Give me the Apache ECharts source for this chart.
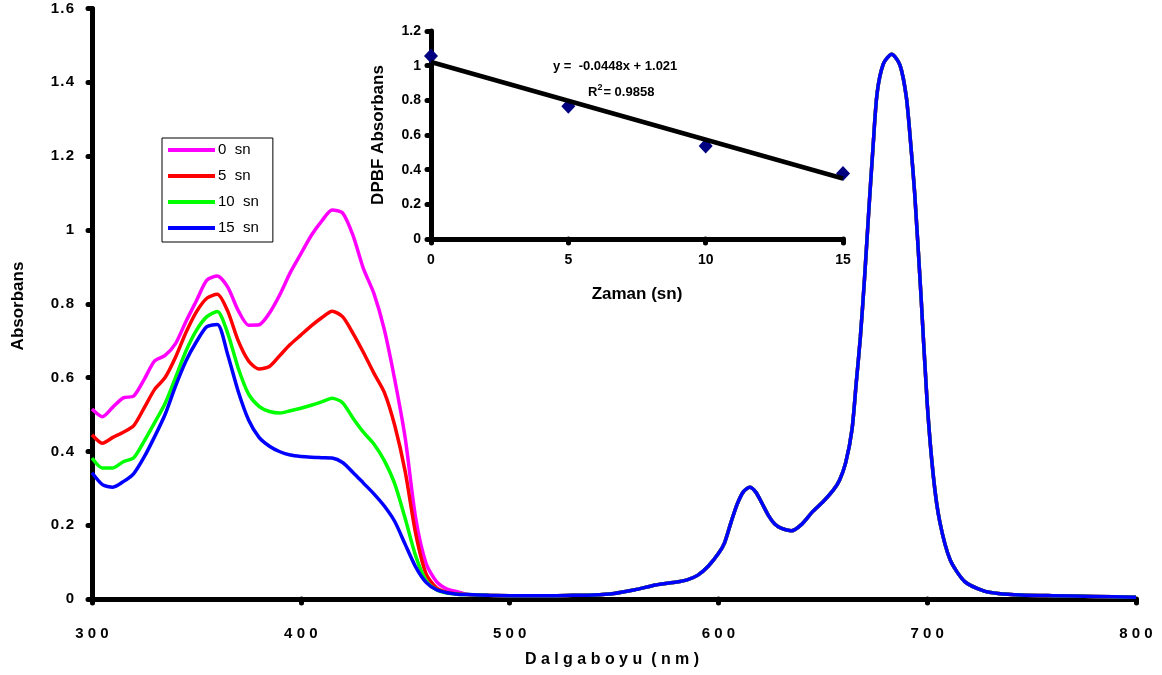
<!DOCTYPE html>
<html>
<head>
<meta charset="utf-8">
<script src="https://cdn.jsdelivr.net/npm/echarts@6/dist/echarts.min.js"></script>
<style>
  html, body { margin: 0; padding: 0; background: #fff; }
  #chart { width: 1162px; height: 675px; }
</style>
</head>
<body>
<div id="chart"></div>
<script>
// UV-Vis absorption spectra of DPBF during irradiation (0, 5, 10, 15 s)
const seriesNames = ['0 sn', '5 sn', '10 sn', '15 sn'];
const seriesColors = ['#FF00FF', '#FF0000', '#00FF00', '#0000FF'];

// Wavelength grid for the DPBF band region (nm)
const wavelengthUV = [300, 305, 310, 315, 320, 325, 330, 335, 340, 345, 350, 355, 360, 365, 370, 375,
  380, 385, 390, 395, 400, 405, 410, 415, 420, 425, 430, 435, 440, 445, 450, 455, 460, 465, 470, 475];

const abs0 = [0.515, 0.494, 0.520, 0.545, 0.550, 0.595, 0.645, 0.660, 0.692, 0.752, 0.808, 0.864, 0.875, 0.845, 0.782, 0.742,
  0.743, 0.775, 0.825, 0.885, 0.935, 0.985, 1.024, 1.054, 1.046, 0.985, 0.895, 0.828, 0.730, 0.594, 0.436, 0.220, 0.096, 0.047, 0.027, 0.020];
const abs5 = [0.445, 0.422, 0.438, 0.452, 0.470, 0.518, 0.568, 0.600, 0.655, 0.722, 0.778, 0.815, 0.826, 0.780, 0.700, 0.645,
  0.623, 0.630, 0.660, 0.690, 0.715, 0.740, 0.762, 0.780, 0.765, 0.720, 0.668, 0.612, 0.560, 0.470, 0.345, 0.178, 0.068, 0.030, 0.018, 0.014];
const abs10 = [0.382, 0.355, 0.355, 0.372, 0.383, 0.428, 0.478, 0.530, 0.600, 0.672, 0.728, 0.765, 0.779, 0.720, 0.626, 0.555,
  0.522, 0.508, 0.504, 0.510, 0.517, 0.525, 0.534, 0.544, 0.532, 0.490, 0.452, 0.420, 0.375, 0.312, 0.218, 0.117, 0.050, 0.025, 0.016, 0.013];
const abs15 = [0.342, 0.310, 0.303, 0.318, 0.340, 0.385, 0.440, 0.500, 0.577, 0.645, 0.697, 0.738, 0.744, 0.662, 0.563, 0.485,
  0.438, 0.414, 0.399, 0.390, 0.386, 0.384, 0.383, 0.382, 0.370, 0.343, 0.314, 0.285, 0.252, 0.210, 0.148, 0.087, 0.045, 0.025, 0.017, 0.013];

// Phthalocyanine Q-band region, identical for all four spectra
const wavelengthQ = [480, 490, 500, 510, 520, 530, 540, 550, 560, 570, 580, 585, 590, 595, 600, 603, 606, 609, 612, 615,
  618, 621, 624, 627, 630, 635, 640, 645, 650, 655, 658, 661, 664, 666, 668, 670, 672, 674, 676, 679, 683, 687, 690, 692,
  694, 697, 700, 703, 706, 711, 718, 727, 734, 745, 760, 780, 800];
const absQ = [0.012, 0.010, 0.009, 0.009, 0.009, 0.010, 0.011, 0.015, 0.025, 0.038, 0.046, 0.052, 0.064, 0.088, 0.123, 0.153, 0.207, 0.257, 0.291, 0.303,
  0.289, 0.258, 0.226, 0.203, 0.192, 0.185, 0.203, 0.236, 0.263, 0.295, 0.322, 0.370, 0.460, 0.585, 0.710, 0.870, 1.050, 1.220, 1.370, 1.450, 1.476, 1.446, 1.360, 1.240,
  1.100, 0.825, 0.530, 0.330, 0.210, 0.106, 0.047, 0.022, 0.015, 0.011, 0.009, 0.007, 0.005];

const spectra = [abs0, abs5, abs10, abs15];

// Inset: DPBF absorbance vs. time
const timeSn = [0, 5, 10, 15];
const dpbfAbs = [1.056, 0.766, 0.536, 0.378];
const fitSlope = -0.0448;
const fitIntercept = 1.021;

function pairs(xs, ys) { return xs.map((x, i) => [x, ys[i]]); }

const FONT = 'Arial, "Liberation Sans", sans-serif';

const chart = echarts.init(document.getElementById('chart'), null, { renderer: 'canvas' });

const axisLineStyle = { lineStyle: { color: '#000', width: 5, cap: 'round' } };
const tickStyle = { show: true, length: 4, lineStyle: { color: '#000', width: 5, cap: 'round' } };

const mainSeries = spectra.map((ys, i) => ({
  name: seriesNames[i],
  type: 'line',
  xAxisIndex: 0,
  yAxisIndex: 0,
  showSymbol: false,
  symbol: 'none',
  smooth: 0.25,
  lineStyle: { color: seriesColors[i], width: 3.5 },
  itemStyle: { color: seriesColors[i] },
  data: pairs(wavelengthUV, ys).concat(pairs(wavelengthQ, absQ)),
  z: 2 + i
}));

const option = {
  backgroundColor: '#fff',
  animation: false,
  textStyle: { fontFamily: FONT },
  grid: [
    { left: 92, right: 26, top: 8.5, bottom: 76 },
    { left: 431, right: 319, top: 31, bottom: 436 }
  ],
  legend: {
    data: seriesNames,
    orient: 'vertical',
    left: 162,
    top: 138,
    icon: 'rect',
    itemWidth: 47,
    itemHeight: 4,
    itemGap: 10,
    padding: [4, 14, 6, 6],
    borderColor: '#000',
    borderWidth: 1,
    backgroundColor: '#fff',
    formatter: name => name.replace(' ', '  '),
    textStyle: { fontFamily: FONT, fontSize: 15, color: '#000', lineHeight: 16, padding: [0, 0, 0, -2] }
  },
  xAxis: [
    {
      type: 'value', gridIndex: 0, min: 300, max: 800, interval: 100,
      axisLine: axisLineStyle, axisTick: tickStyle, splitLine: { show: false },
      axisLabel: {
        margin: 27, color: '#000', fontWeight: 'bold', fontSize: 15, fontFamily: FONT,
        formatter: v => String(v).split('').join(' ')
      }
    },
    {
      type: 'value', gridIndex: 1, min: 0, max: 15, interval: 5,
      axisLine: axisLineStyle, axisTick: tickStyle, splitLine: { show: false },
      axisLabel: { margin: 14, color: '#000', fontWeight: 'bold', fontSize: 14, fontFamily: FONT }
    }
  ],
  yAxis: [
    {
      type: 'value', gridIndex: 0, min: 0, max: 1.6, interval: 0.2,
      axisLine: axisLineStyle, axisTick: tickStyle, splitLine: { show: false },
      axisLabel: {
        margin: 18, color: '#000', fontWeight: 'bold', fontSize: 15, fontFamily: FONT,
        formatter: v => String(+v.toFixed(1)).split('').join('\u200A')
      }
    },
    {
      type: 'value', gridIndex: 1, min: 0, max: 1.2, interval: 0.2,
      axisLine: axisLineStyle, axisTick: tickStyle, splitLine: { show: false },
      axisLabel: {
        margin: 10, color: '#000', fontWeight: 'bold', fontSize: 14, fontFamily: FONT,
        formatter: v => String(+v.toFixed(1))
      }
    }
  ],
  series: mainSeries.concat([
    {
      name: 'trend',
      type: 'line',
      xAxisIndex: 1, yAxisIndex: 1,
      showSymbol: false, symbol: 'none',
      lineStyle: { color: '#000', width: 4.5 },
      data: [[timeSn[0], fitIntercept + fitSlope * timeSn[0]],
             [timeSn[timeSn.length - 1], fitIntercept + fitSlope * timeSn[timeSn.length - 1]]],
      z: 5
    },
    {
      name: 'DPBF',
      type: 'scatter',
      xAxisIndex: 1, yAxisIndex: 1,
      symbol: 'diamond',
      symbolSize: [14, 15],
      itemStyle: { color: '#000080', opacity: 1 },
      data: pairs(timeSn, dpbfAbs),
      z: 4
    }
  ]),
  graphic: [
    {
      type: 'text', x: 612, y: 660,
      style: {
        text: 'D a l g a b o y u  ( n m )',
        fontFamily: FONT, fontWeight: 'bold', fontSize: 16, fill: '#000',
        align: 'center', verticalAlign: 'middle'
      }
    },
    {
      type: 'text', x: 18, y: 306, rotation: Math.PI / 2,
      style: {
        text: 'Absorbans', fontFamily: FONT, fontWeight: 'bold', fontSize: 17, fill: '#000',
        align: 'center', verticalAlign: 'middle'
      }
    },
    {
      type: 'text', x: 378, y: 135, rotation: Math.PI / 2,
      style: {
        text: 'DPBF Absorbans', fontFamily: FONT, fontWeight: 'bold', fontSize: 17, fill: '#000',
        align: 'center', verticalAlign: 'middle'
      }
    },
    {
      type: 'text', x: 637, y: 294,
      style: {
        text: 'Zaman (sn)', fontFamily: FONT, fontWeight: 'bold', fontSize: 17, fill: '#000',
        align: 'center', verticalAlign: 'middle'
      }
    },
    {
      type: 'text', x: 553, y: 66,
      style: {
        text: 'y =  -0.0448x + 1.021', fontFamily: FONT, fontWeight: 'bold', fontSize: 13, fill: '#000',
        align: 'left', verticalAlign: 'middle'
      }
    },
    {
      type: 'text', x: 588, y: 92,
      style: {
        text: '{b|R}{s|2}{b|= 0.9858}',
        align: 'left', verticalAlign: 'middle',
        rich: {
          b: { fontFamily: FONT, fontWeight: 'bold', fontSize: 13, color: '#000' },
          s: { fontFamily: FONT, fontWeight: 'bold', fontSize: 9, color: '#000', verticalAlign: 'top', padding: [0, 1, 8, 0] }
        }
      }
    }
  ]
};

chart.setOption(option);
</script>
</body>
</html>
